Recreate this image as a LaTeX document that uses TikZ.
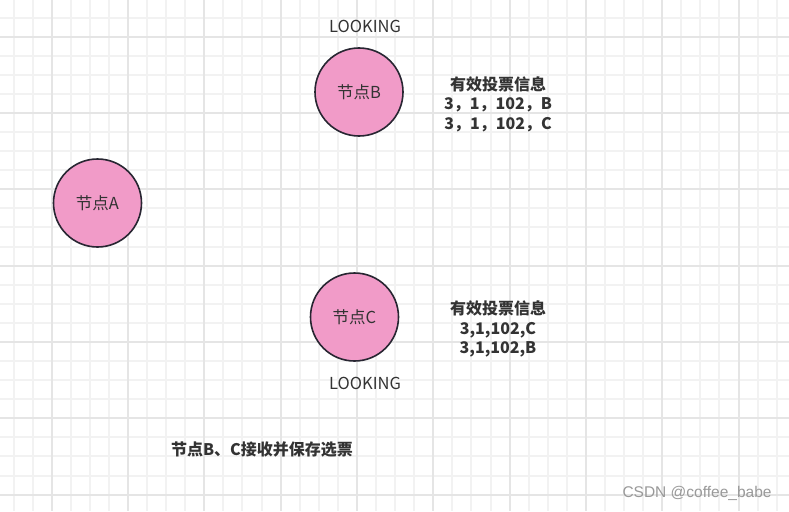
\documentclass[tikz,border=0pt]{standalone}
\usepackage{fontspec}
\setmainfont{Noto Sans CJK SC}
\newfontfamily\markfont{Liberation Sans}
\usepackage{tikz}
\definecolor{nodepink}{RGB}{241,155,200}
\definecolor{nodeedge}{RGB}{40,38,50}
\definecolor{textgray}{RGB}{51,51,51}
\tikzstyle{vertex}=[circle,draw=nodeedge,fill=nodepink,line width=1.6pt,minimum size=88pt,inner sep=0pt,text=textgray,font=\fontsize{16.5}{19}\selectfont]
\tikzstyle{state}=[text=textgray,font=\fontsize{16.5}{19}\selectfont]
\tikzstyle{votes}=[text=textgray,align=center,font=\bfseries\fontsize{16}{19.5}\selectfont]
\tikzstyle{minorline}=[line width=2pt,color=black!5]
\tikzstyle{majorline}=[line width=2pt,color=black!10]

\begin{document}
\begin{tikzpicture}[x=1pt,y=-1pt]
\useasboundingbox (0,0) rectangle (789,511);
\fill[white] (0,0) rectangle (789,511);
% background grid
\foreach \i in {0,...,40}
  \draw[minorline] ({round(13.5+19.08*\i)},0) -- ({round(13.5+19.08*\i)},511);
\foreach \j in {0,...,25}
  \draw[minorline] (0,{round(17.6+19.08*\j)}) -- (789,{round(17.6+19.08*\j)});
\foreach \i in {2,6,...,38}
  \draw[majorline] ({round(13.5+19.08*\i)},0) -- ({round(13.5+19.08*\i)},511);
\foreach \j in {1,5,...,25}
  \draw[majorline] (0,{round(17.6+19.08*\j)}) -- (789,{round(17.6+19.08*\j)});

\node [vertex] (nodeA) at (97.5,203) {节点A};
\node [vertex] (nodeB) at (359,92) {节点B};
\node [vertex] (nodeC) at (354.5,317) {节点C};

\node [state] (stateB) at (365,26) {LOOKING};
\node [state] (stateC) at (365,383) {LOOKING};

\node [votes] (votesB) at (498,104) {有效投票信息\\3，1，102，B\\3，1，102，C};
\node [votes] (votesC) at (498,329) {有效投票信息\\3,1,102,C\\3,1,102,B};

\node [votes] (caption) at (262,449) {节点B、C接收并保存选票};
\node [text=black!40,font=\markfont\fontsize{15.5}{18}\selectfont] (mark) at (697,493) {CSDN @coffee\_babe};
\end{tikzpicture}
\end{document}
